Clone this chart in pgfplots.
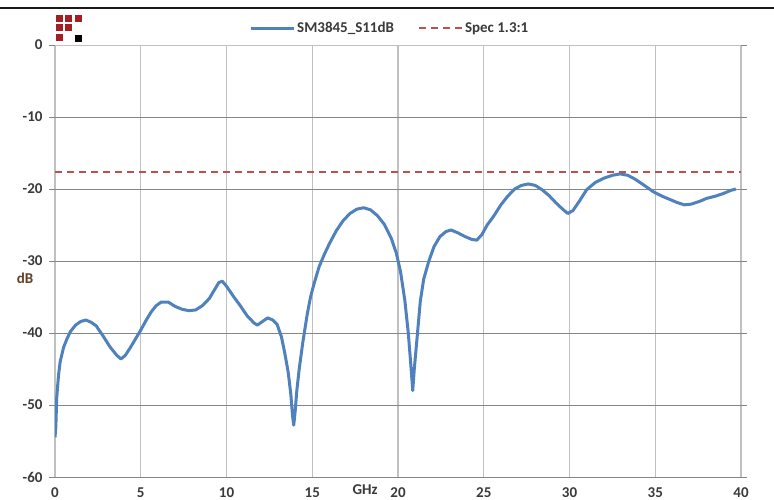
\documentclass[border=0pt]{standalone}
\usepackage{fontspec}
\setmainfont{Carlito}
\usepackage{pgfplots}
\pgfplotsset{compat=1.18}

\definecolor{s11blue}{HTML}{4F81BD}
\definecolor{specred}{HTML}{C0504D}
\definecolor{gridlight}{HTML}{C0C0C0}
\definecolor{griddark}{HTML}{868686}
\definecolor{logored}{HTML}{A31F24}
\definecolor{labelcol}{HTML}{3A3A3A}

\begin{document}
\begin{tikzpicture}
\useasboundingbox (0,0) rectangle (774pt,500pt);
% top rule
\draw[black!90, line width=2pt] (0pt,492pt) -- (774pt,492pt);

\begin{axis}[
    at={(55pt,23pt)}, anchor=south west,
    scale only axis,
    width=686pt, height=432pt,
    xmin=0, xmax=40, ymin=-60, ymax=0,
    xtick={0,5,...,40},
    ytick={-60,-50,...,0},
    xmajorgrids, ymajorgrids,
    x grid style={gridlight, line width=1.3pt},
    y grid style={griddark, line width=0.8pt},
    axis line style={draw=none},
    tick align=outside,
    x tick style={draw=none},
    y tick style={griddark, line width=0.8pt},
    major tick length=6pt,
    /pgf/number format/assume math mode=true,
    ticklabel style={font=\fontsize{15}{17}\selectfont\bfseries, text=labelcol},
    xticklabel style={inner ysep=0.5pt, yshift=-4pt},
    yticklabel style={xshift=-3pt},
    xlabel={GHz},
    xlabel style={at={(rel axis cs:0.452,0)}, anchor=center, yshift=-13pt, inner ysep=0.5pt,
        font=\fontsize{15}{17}\selectfont\bfseries, text=labelcol},
    ylabel={dB},
    ylabel style={at={(rel axis cs:-0.0437,0.4606)}, anchor=center, rotate=-90,
        font=\fontsize{15}{17}\selectfont\bfseries, text={rgb,255:red,95;green,65;blue,35}},
    legend columns=2,
    legend style={at={(0.488,1.039)}, anchor=center, draw=none, fill=none,
        font=\fontsize{15}{17}\selectfont\bfseries, text=labelcol,
        /tikz/every even column/.append style={column sep=22pt},
        nodes={inner xsep=2pt}},
    legend image code/.code={\draw[#1] (0pt,0pt) -- (43pt,0pt);},
]

\addplot[s11blue, line width=3pt, line join=round] coordinates {
(0.00,-54.5) (0.05,-53.0) (0.10,-49.0) (0.20,-46.0) (0.30,-44.0)
(0.50,-42.0) (0.70,-40.8) (0.90,-39.8) (1.20,-38.9) (1.50,-38.4)
(1.80,-38.2) (2.10,-38.5) (2.40,-39.0) (2.80,-40.4) (3.20,-41.9)
(3.60,-43.1) (3.85,-43.6) (4.10,-43.1) (4.40,-42.0) (4.70,-40.8)
(5.00,-39.6) (5.30,-38.3) (5.60,-37.1) (5.90,-36.2) (6.20,-35.7)
(6.60,-35.7) (7.00,-36.3) (7.40,-36.7) (7.80,-36.9) (8.20,-36.8)
(8.60,-36.2) (9.00,-35.2) (9.30,-34.0) (9.55,-33.0) (9.75,-32.8)
(10.00,-33.5) (10.40,-34.9) (10.80,-36.2) (11.20,-37.6) (11.60,-38.6)
(11.80,-38.9) (12.10,-38.4) (12.40,-37.9) (12.70,-38.2) (12.95,-38.8)
(13.20,-40.5) (13.40,-42.8) (13.60,-45.5) (13.75,-48.5) (13.85,-51.5)
(13.92,-52.8) (14.00,-51.0) (14.10,-48.0) (14.25,-44.8) (14.45,-41.3)
(14.70,-37.5) (14.90,-35.0) (15.10,-33.2) (15.40,-30.8) (15.70,-29.1)
(16.00,-27.6) (16.40,-25.8) (16.80,-24.4) (17.20,-23.4) (17.60,-22.8)
(18.00,-22.6) (18.40,-22.9) (18.80,-23.7) (19.20,-24.9) (19.60,-26.8)
(19.90,-28.9) (20.15,-31.5) (20.40,-35.5) (20.60,-40.0) (20.75,-44.5)
(20.86,-48.0) (20.95,-45.0) (21.10,-41.0) (21.30,-35.6) (21.50,-32.5)
(21.80,-30.0) (22.10,-28.0) (22.45,-26.6) (22.80,-25.9) (23.10,-25.7)
(23.50,-26.1) (23.90,-26.6) (24.30,-27.0) (24.60,-27.1) (24.90,-26.3)
(25.20,-25.0) (25.60,-23.7) (26.00,-22.2) (26.40,-21.0) (26.80,-20.0)
(27.20,-19.5) (27.60,-19.3) (28.00,-19.5) (28.40,-20.1) (28.80,-20.9)
(29.20,-21.9) (29.60,-22.8) (29.90,-23.4) (30.20,-23.0) (30.60,-21.6)
(31.00,-20.1) (31.50,-19.1) (32.00,-18.5) (32.50,-18.1) (32.95,-17.9)
(33.40,-18.1) (33.80,-18.6) (34.30,-19.4) (34.90,-20.4) (35.40,-21.0)
(35.90,-21.5) (36.30,-21.9) (36.70,-22.2) (37.10,-22.1) (37.60,-21.7)
(38.00,-21.3) (38.50,-21.0) (39.00,-20.6) (39.40,-20.2) (39.70,-20.0)
};
\addlegendentry{SM3845\_S11dB}

\addplot[specred, line width=2pt, dash pattern=on 7pt off 5pt] coordinates {
(0,-17.69) (40,-17.69)
};
\addlegendentry{Spec 1.3:1}

% light frame at the top edge
\draw[gridlight, line width=1.3pt] (rel axis cs:0,1) -- (rel axis cs:1,1);
\end{axis}

% logo
\foreach \x/\y in {55.7/478, 65.2/478, 74.7/478, 55.7/468.5, 65.2/468.5, 55.7/458.5}
  \fill[logored] (\x pt,\y pt) rectangle ++(7pt,7pt);
\fill[black] (75.3pt,458pt) rectangle ++(7pt,7pt);
\end{tikzpicture}
\end{document}
